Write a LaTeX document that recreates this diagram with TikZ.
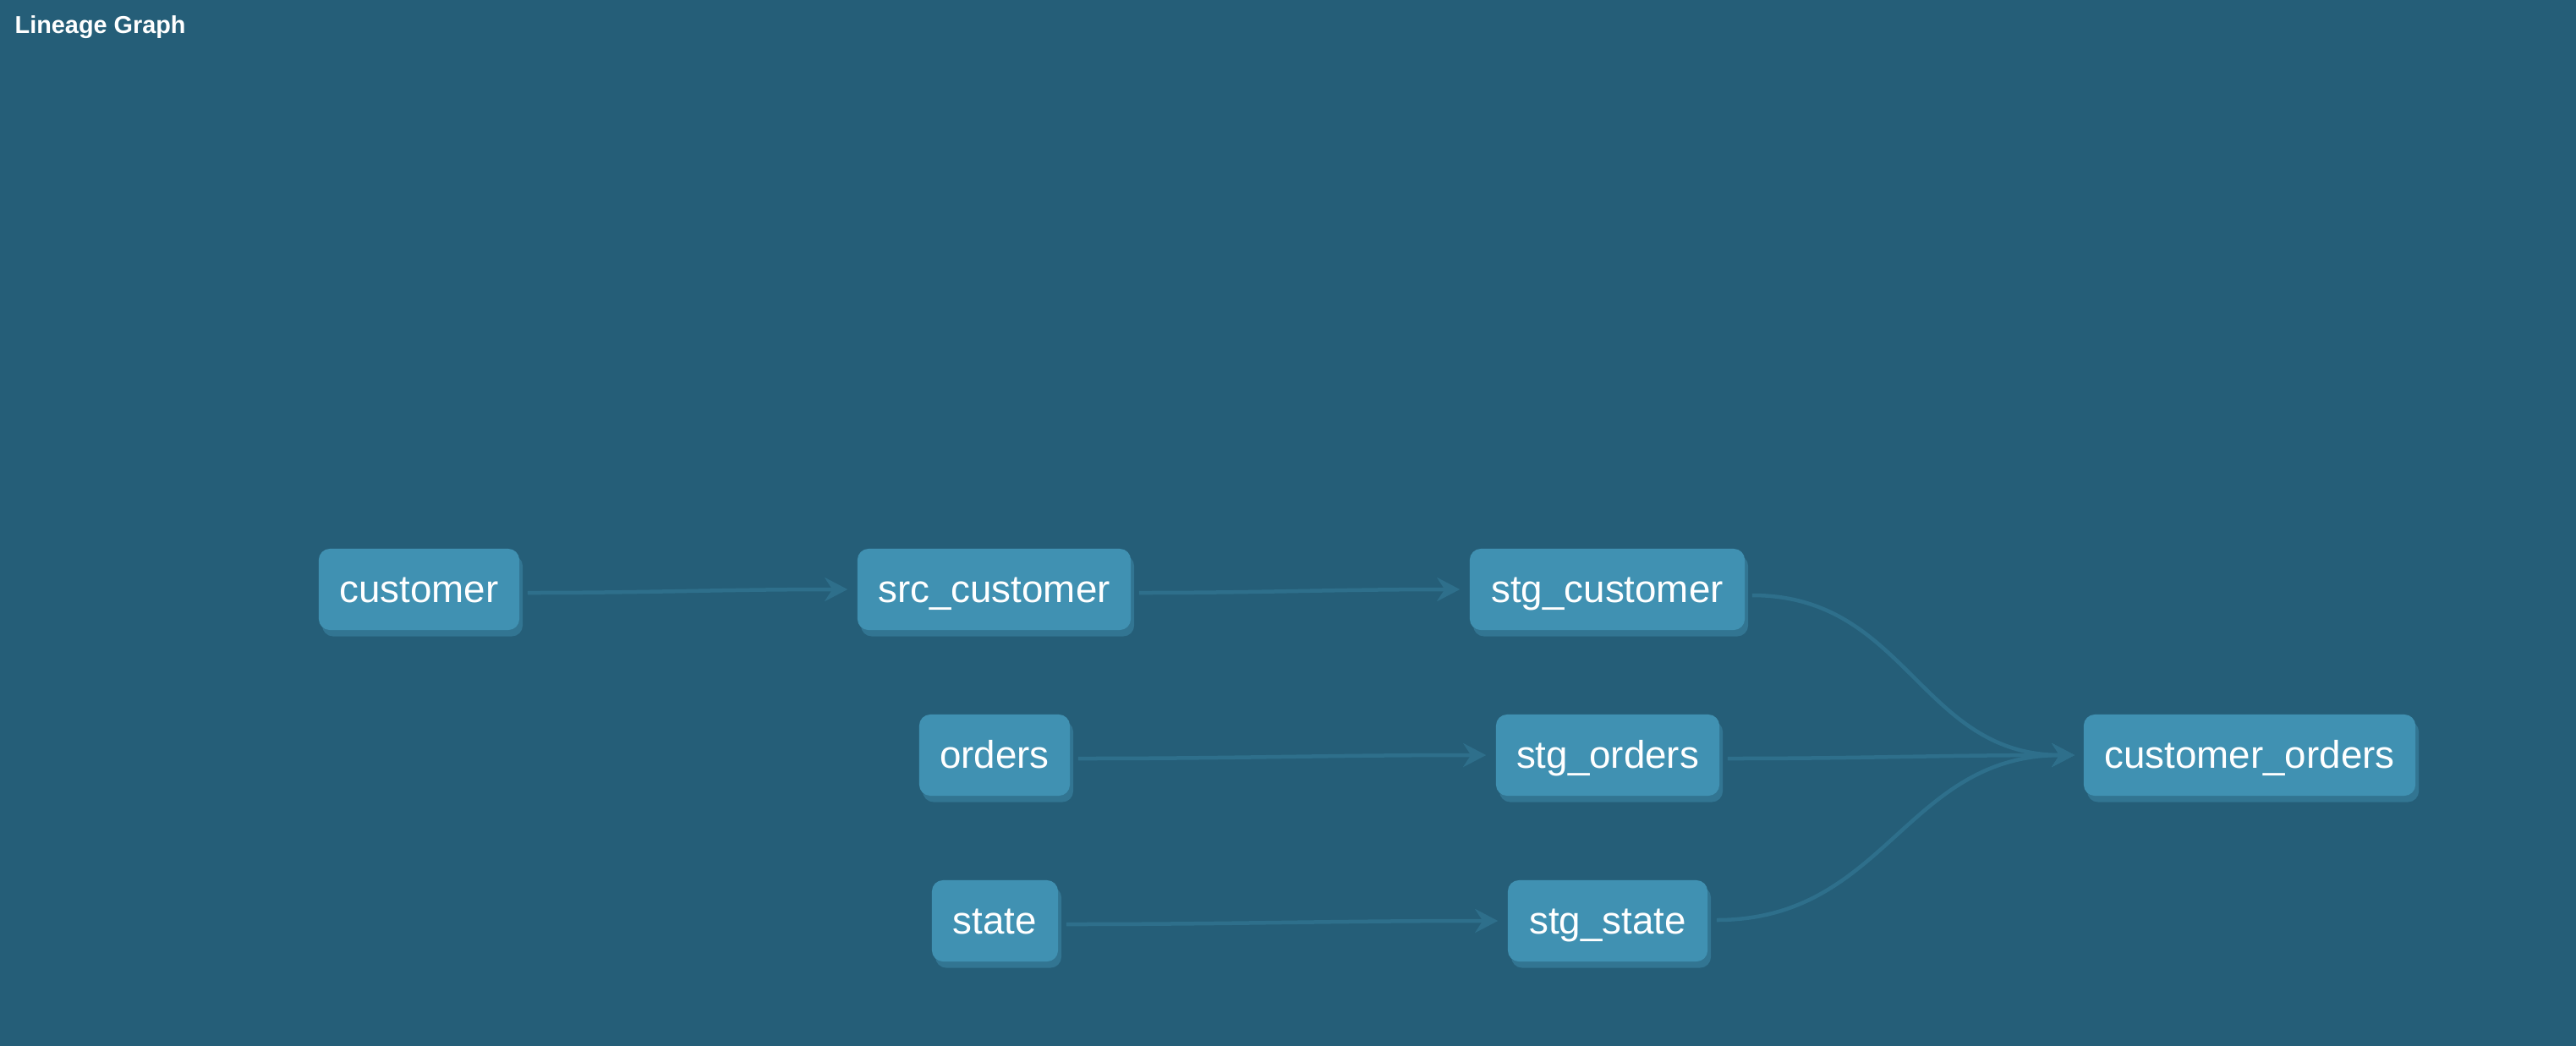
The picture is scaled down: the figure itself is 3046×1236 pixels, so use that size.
\documentclass[tikz,border=0pt]{standalone}
\usepackage{fontspec}
\setmainfont{Liberation Sans}
\usetikzlibrary{arrows.meta,shadows}
\definecolor{bgcol}{RGB}{37,94,120}
\definecolor{nodecol}{RGB}{64,145,178}
\definecolor{shadowcol}{RGB}{50,117,146}
\definecolor{edgecol}{RGB}{46,111,139}
\tikzset{
  lin/.style={rectangle, rounded corners=0.13cm, fill=nodecol, text=white,
    minimum height=0.96cm, inner sep=0pt, text height=10pt, text depth=1.4pt,
    font=\fontsize{13pt}{15pt}\selectfont,
    drop shadow={shadow xshift=0.04cm, shadow yshift=-0.075cm, fill=shadowcol, opacity=1}},
  edge/.style={draw=edgecol, line width=0.045cm,
    -{Stealth[length=0.27cm, width=0.28cm, inset=0.09cm]}},
}
\begin{document}
\begin{tikzpicture}[x=0.01cm, y=-0.01cm]
\useasboundingbox (0,0) rectangle (3046,1236);
\fill[bgcol] (-20,-20) rectangle (3066,1256);
\node[anchor=west, inner sep=0pt, text=white, font=\bfseries\fontsize{8.2pt}{10pt}\selectfont] (title) at (17,32) {Lineage Graph};

\node[lin, minimum width=2.37cm] (cust) at (495.5,697) {customer};
\node[lin, minimum width=3.23cm] (src) at (1175.5,697) {src\_customer};
\node[lin, minimum width=3.25cm] (stgc) at (1900.5,697) {stg\_customer};
\node[lin, minimum width=1.78cm] (ord) at (1176,893) {orders};
\node[lin, minimum width=2.64cm] (stgo) at (1901,893) {stg\_orders};
\node[lin, minimum width=1.49cm] (st) at (1176.5,1089) {state};
\node[lin, minimum width=2.36cm] (stgs) at (1901,1089) {stg\_state};
\node[lin, minimum width=3.92cm] (co) at (2660,893) {customer\_orders};

\draw[edge] ([shift={(9,4)}]cust.east) to[out=0,in=180] ([shift={(-11,0)}]src.west);
\draw[edge] ([shift={(9,4)}]src.east) to[out=0,in=180] ([shift={(-11,0)}]stgc.west);
\draw[edge] ([shift={(9,4)}]ord.east) to[out=0,in=180] ([shift={(-11,0)}]stgo.west);
\draw[edge] ([shift={(9,4)}]st.east) to[out=0,in=180] ([shift={(-11,0)}]stgs.west);
\draw[edge] ([shift={(9,4)}]stgo.east) to[out=0,in=180] ([shift={(-10,0)}]co.west);
\draw[edge] ([shift={(8,7)}]stgc.east) to[out=0,in=180,looseness=1.1] ([shift={(-10,0)}]co.west);
\draw[edge] ([shift={(10,-1)}]stgs.east) to[out=0,in=180,looseness=1.1] ([shift={(-10,0)}]co.west);
\end{tikzpicture}
\end{document}
